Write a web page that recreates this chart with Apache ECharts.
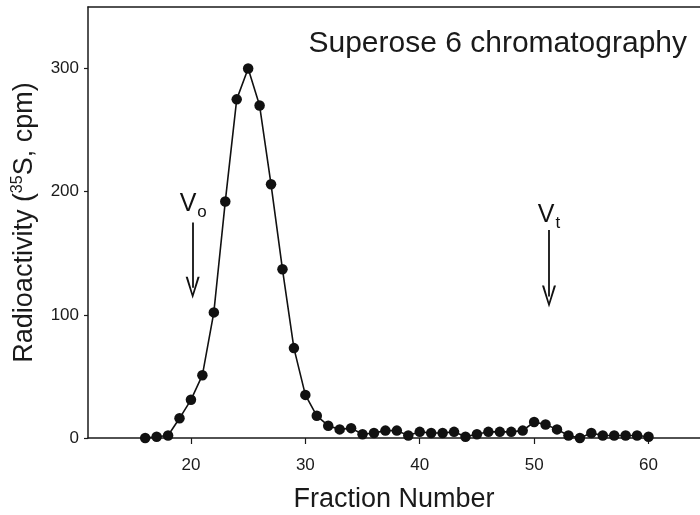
<!DOCTYPE html>
<html>
<head>
<meta charset="utf-8">
<script src="https://cdn.jsdelivr.net/npm/echarts@6/dist/echarts.min.js"></script>
<style>
  html, body { margin: 0; padding: 0; background: #fff; }
  #chart { width: 700px; height: 515px; }
</style>
</head>
<body>
<div id="chart"></div>
<script>
// Fraction numbers (x) and radioactivity values (y, cpm)
const fractions = [16, 17, 18, 19, 20, 21, 22, 23, 24, 25, 26, 27, 28, 29, 30,
  31, 32, 33, 34, 35, 36, 37, 38, 39, 40, 41, 42, 43, 44, 45,
  46, 47, 48, 49, 50, 51, 52, 53, 54, 55, 56, 57, 58, 59, 60];
const radioactivity = [0, 1, 2, 16, 31, 51, 102, 192, 275, 300, 270, 206, 137, 73, 35,
  18, 10, 7, 8, 3, 4, 6, 6, 2, 5, 4, 4, 5, 1, 3,
  5, 5, 5, 6, 13, 11, 7, 2, 0, 4, 2, 2, 2, 2, 1];

// Tick labels
const xTicks = [20, 30, 40, 50, 60];
const yTicks = [0, 100, 200, 300];

// Void / total volume markers
const vo = { x: 20.15, from: 175, to: 122, labelX: 20.2, labelY: 190 };
const vt = { x: 51.3, from: 169, to: 115, labelX: 51.3, labelY: 181 };

const seriesData = fractions.map((f, i) => [f, radioactivity[i]]);

const font = 'Liberation Sans, Arial, sans-serif';
// open arrow head, tip up
const chevron = 'path://M5,0 L10,18 L8.5,18 L5,4.5 L1.5,18 L0,18 Z';

let myChart = echarts.init(document.getElementById('chart'));

const option = {
  animation: false,
  title: {
    text: 'Superose 6 chromatography',
    right: 8,
    top: 24,
    textStyle: { fontFamily: font, fontSize: 30, fontWeight: 'normal', color: '#1a1a1a' },
  },
  grid: { left: 88, top: 7, right: 0, bottom: 77, outerBoundsMode: 'none' },
  xAxis: [
    {
      type: 'value',
      min: 11,
      max: 64.5,
      name: 'Fraction Number',
      nameLocation: 'middle',
      nameGap: 48,
      nameTextStyle: { fontFamily: font, fontSize: 27, color: '#1a1a1a' },
      axisLine: { show: true, onZero: false, lineStyle: { color: '#1a1a1a', width: 1.5 } },
      axisTick: { show: true, length: 6, customValues: xTicks, lineStyle: { color: '#1a1a1a', width: 1.2 } },
      axisLabel: { customValues: xTicks, margin: 19, fontFamily: font, fontSize: 17, color: '#1a1a1a' },
      splitLine: { show: false },
    },
    {
      // top frame line
      type: 'value',
      position: 'top',
      min: 11,
      max: 64.5,
      axisLine: { show: true, onZero: false, lineStyle: { color: '#1a1a1a', width: 1.5 } },
      axisTick: { show: false },
      axisLabel: { show: false },
      splitLine: { show: false },
    },
  ],
  yAxis: {
    type: 'value',
    min: 0,
    max: 350,
    name: '{t|Radioactivity (}{sup|35}{t|S, cpm)}',
    nameLocation: 'middle',
    nameGap: 48,
    nameTextStyle: {
      rich: {
        t: { fontFamily: font, fontSize: 27, color: '#1a1a1a' },
        sup: { fontFamily: font, fontSize: 16, color: '#1a1a1a', verticalAlign: 'top', padding: [0, 0, 14, 0] },
      },
    },
    axisLine: { show: true, onZero: false, lineStyle: { color: '#1a1a1a', width: 1.5 } },
    axisTick: { show: true, length: 4, customValues: yTicks, lineStyle: { color: '#1a1a1a', width: 1.2 } },
    axisLabel: { customValues: yTicks, margin: 9, fontFamily: font, fontSize: 17, color: '#1a1a1a' },
    splitLine: { show: false },
  },
  series: [
    {
      type: 'line',
      data: seriesData,
      symbol: 'circle',
      symbolSize: 10.5,
      itemStyle: { color: '#111' },
      lineStyle: { color: '#111', width: 1.6 },
      z: 3,
    },
    {
      // arrows and V labels, on the top x axis (same scale)
      type: 'line',
      xAxisIndex: 1,
      data: [],
      silent: true,
      markLine: {
        silent: true,
        symbol: ['none', chevron],
        symbolSize: [14, 22],
        lineStyle: { color: '#111', width: 1.8, type: 'solid' },
        label: { show: false },
        data: [
          [{ coord: [vo.x, vo.from] }, { coord: [vo.x, vo.to] }],
          [{ coord: [vt.x, vt.from] }, { coord: [vt.x, vt.to] }],
        ],
      },
      markPoint: {
        silent: true,
        symbol: 'circle',
        symbolSize: 0,
        label: {
          show: true,
          color: '#111',
          rich: {
            v: { fontFamily: font, fontSize: 25, color: '#111' },
            s: { fontFamily: font, fontSize: 17, color: '#111', verticalAlign: 'bottom', padding: [16, 0, 0, 1] },
          },
        },
        data: [
          { coord: [vo.labelX, vo.labelY], label: { formatter: '{v|V}{s|o}' } },
          { coord: [vt.labelX, vt.labelY], label: { formatter: '{v|V}{s|t}' } },
        ],
      },
    },
  ],
};

myChart.setOption(option);
</script>
</body>
</html>
